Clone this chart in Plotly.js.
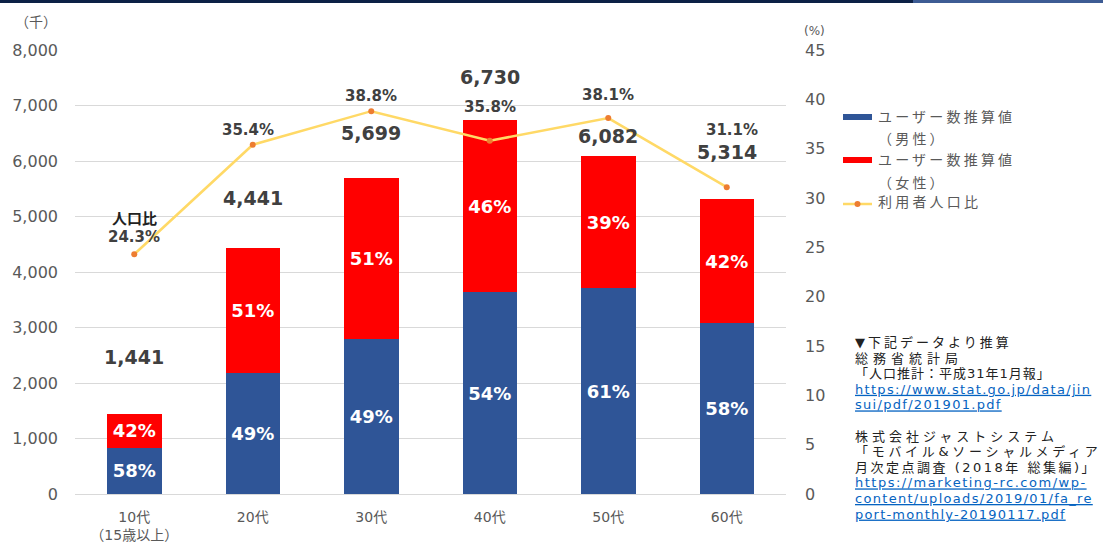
<!DOCTYPE html>
<html>
<head>
<meta charset="utf-8">
<script src="https://cdn.plot.ly/plotly-3.0.1.min.js"></script>
<style>html,body{margin:0;padding:0;background:#fff;}#chart{width:1103px;height:543px;}</style>
</head>
<body>
<div id="chart"></div>
<script>
// ---- data ----
const categories = ["10代<br>（15歳以上）", "20代", "30代", "40代", "50代", "60代"];
const maleUsers = [836, 2176, 2793, 3634, 3710, 3082];
const femaleUsers = [605, 2265, 2906, 3096, 2372, 2232];
const totalUsers = [1441, 4441, 5699, 6730, 6082, 5314];
const malePct = ["58%", "49%", "49%", "54%", "61%", "58%"];
const femalePct = ["42%", "51%", "51%", "46%", "39%", "42%"];
const userRatio = [24.3, 35.4, 38.8, 35.8, 38.1, 31.1];
const ratioLabels = ["24.3%", "35.4%", "38.8%", "35.8%", "38.1%", "31.1%"];
const seriesNames = ["ユーザー数推算値", "ユーザー数推算値", "利用者人口比"];
const seriesSub = ["（男性）", "（女性）", ""];
const sourceLines = [
  "▼下記データより推算",
  "総務省統計局",
  "「人口推計：平成31年1月報」",
  "https://www.stat.go.jp/data/jin",
  "sui/pdf/201901.pdf",
  "",
  "株式会社ジャストシステム",
  "「モバイル&amp;ソーシャルメディア",
  "月次定点調査 (2018年 総集編)」",
  "https://marketing-rc.com/wp-",
  "content/uploads/2019/01/fa_re",
  "port-monthly-20190117.pdf"
];
const sourceIsLink = [false, false, false, true, true, false, false, false, false, true, true, true];

// ---- layout helpers (pixel geometry) ----
const W = 1103, H = 543;
const M = {l: 75, r: 317, t: 50, b: 49};
const plotH = H - M.t - M.b;
const plotW = W - M.l - M.r;
const py = (px) => (H - M.b - px) / plotH;   // pixel y -> paper y
const pxx = (px) => (px - M.l) / plotW;      // pixel x -> paper x

const FONT = '"DejaVu Sans", "Noto Sans CJK JP", sans-serif';
const GRAY = '#595959';
const DARK = '#404040';
const BLUE = '#2F5597', RED = '#FF0000', GOLD = '#FFD966', ORANGE = '#ED7D31';

const totalShift = [57, 50, 45, 43, 20, 47];
const ratioShift = [17, 15, 15, 34, 23, 57];
const ratioXShift = [0, -5, 0, 0, 0, 5];
const sourceSpacing = [3, 5, 1, 1.3, 1.3, 0, 4, 3.7, 2.5, 1.5, 1.3, 1.2];

const traces = [
  {
    type: 'bar', name: seriesNames[0] + seriesSub[0],
    x: categories, y: maleUsers, text: malePct,
    textposition: 'inside', insidetextanchor: 'middle', textangle: 0,
    constraintext: 'none',
    textfont: {family: FONT, size: 18, color: '#ffffff', weight: 'bold'},
    marker: {color: BLUE}
  },
  {
    type: 'bar', name: seriesNames[1] + seriesSub[1],
    x: categories, y: femaleUsers, text: femalePct,
    textposition: 'inside', insidetextanchor: 'middle', textangle: 0,
    constraintext: 'none',
    textfont: {family: FONT, size: 18, color: '#ffffff', weight: 'bold'},
    marker: {color: RED}
  },
  {
    type: 'scatter', mode: 'lines+markers', name: seriesNames[2],
    x: categories, y: userRatio, yaxis: 'y2',
    line: {color: GOLD, width: 2.5},
    marker: {color: ORANGE, size: 6}
  }
];

const annotations = [];
categories.forEach((c, i) => {
  annotations.push({
    x: c, y: totalUsers[i], xref: 'x', yref: 'y',
    text: totalUsers[i].toLocaleString('en-US'),
    showarrow: false, yshift: totalShift[i], xanchor: 'center', yanchor: 'middle',
    font: {family: FONT, size: 19, color: DARK, weight: 'bold'}
  });
  annotations.push({
    x: c, y: userRatio[i], xref: 'x', yref: 'y2',
    text: ratioLabels[i], showarrow: false,
    yshift: ratioShift[i], xshift: ratioXShift[i], xanchor: 'center', yanchor: 'middle',
    font: {family: FONT, size: 15, color: DARK, weight: 'bold'}
  });
});
annotations.push({
  x: categories[0], y: userRatio[0], xref: 'x', yref: 'y2',
  text: '人口比', showarrow: false, yshift: 35, xanchor: 'center', yanchor: 'middle',
  font: {family: FONT, size: 15, color: '#222222', weight: 'bold'}
});
annotations.push({
  x: pxx(36), y: py(22), xref: 'paper', yref: 'paper', text: '（千）',
  xanchor: 'center', yanchor: 'middle',
  showarrow: false, font: {family: FONT, size: 14, color: GRAY}
});
annotations.push({
  x: pxx(814), y: py(31), xref: 'paper', yref: 'paper', text: '(%)',
  xanchor: 'center', yanchor: 'middle',
  showarrow: false, font: {family: FONT, size: 12, color: GRAY}
});

// legend (drawn)
const legendTextY = [117, 160, 202];
const legendSubY = [139, 183];
const spaced = (t, s) => '<span style="letter-spacing:' + s + 'px">' + t + '</span>';
seriesNames.forEach((n, i) => {
  annotations.push({
    x: pxx(876), y: py(legendTextY[i]), xref: 'paper', yref: 'paper',
    xanchor: 'left', yanchor: 'middle', showarrow: false,
    text: spaced(n, 3.2), font: {family: FONT, size: 14, color: GRAY}
  });
  if (seriesSub[i]) {
    annotations.push({
      x: pxx(876), y: py(legendSubY[i]), xref: 'paper', yref: 'paper',
      xanchor: 'left', yanchor: 'middle', showarrow: false,
      text: spaced(seriesSub[i], 3.2), font: {family: FONT, size: 14, color: GRAY}
    });
  }
});

// source notes
const srcText = sourceLines.map((t, i) => {
  if (!t) return ' ';
  if (sourceIsLink[i]) return '<span style="fill:#0563C1;text-decoration:underline;font-size:13px;letter-spacing:' + sourceSpacing[i] + 'px">' + t + '</span>';
  return '<span style="font-size:13px;letter-spacing:' + sourceSpacing[i] + 'px">' + t + '</span>';
}).join('<br>');
annotations.push({
  x: pxx(853), y: py(428.5), xref: 'paper', yref: 'paper',
  xanchor: 'left', yanchor: 'middle', align: 'left', showarrow: false,
  text: srcText, font: {family: FONT, size: 12, color: '#222222'}
});

const layout = {
  width: W, height: H,
  margin: M,
  paper_bgcolor: '#ffffff', plot_bgcolor: '#ffffff',
  font: {family: FONT, color: GRAY},
  barmode: 'stack', bargap: 0.54,
  showlegend: false,
  xaxis: {
    type: 'category', showgrid: false, zeroline: false,
    showline: true, linecolor: '#D9D9D9', linewidth: 1,
    tickfont: {family: FONT, size: 14, color: GRAY},
    ticks: '', ticklabelstandoff: 10, fixedrange: true
  },
  yaxis: {
    range: [0, 8000], dtick: 1000, tickformat: ',',
    showgrid: true, gridcolor: '#D9D9D9', gridwidth: 1,
    zeroline: false, showline: false, ticks: '',
    ticklabelstandoff: 16,
    tickfont: {family: FONT, size: 16, color: GRAY}
  },
  yaxis2: {
    overlaying: 'y', side: 'right', range: [0, 45], dtick: 5,
    showgrid: false, zeroline: false, showline: false, ticks: '',
    ticklabelstandoff: 18,
    tickfont: {family: FONT, size: 16, color: GRAY}
  },
  annotations: annotations,
  shapes: [
    {type: 'rect', xref: 'paper', yref: 'paper', x0: pxx(0), x1: pxx(913), y0: py(3), y1: py(0),
     fillcolor: '#0C2146', line: {width: 0}, layer: 'above'},
    {type: 'rect', xref: 'paper', yref: 'paper', x0: pxx(913), x1: pxx(1103), y0: py(3), y1: py(0),
     fillcolor: '#3D5C94', line: {width: 0}, layer: 'above'},
    // legend keys
    {type: 'rect', xref: 'paper', yref: 'paper', x0: pxx(843), x1: pxx(872), y0: py(120), y1: py(114),
     fillcolor: BLUE, line: {width: 0}},
    {type: 'rect', xref: 'paper', yref: 'paper', x0: pxx(843), x1: pxx(872), y0: py(163), y1: py(157),
     fillcolor: RED, line: {width: 0}},
    {type: 'line', xref: 'paper', yref: 'paper', x0: pxx(843), x1: pxx(872), y0: py(204), y1: py(204),
     line: {color: GOLD, width: 2.5}},
    {type: 'circle', xref: 'paper', yref: 'paper', x0: pxx(854.5), x1: pxx(860.5), y0: py(207), y1: py(201),
     fillcolor: ORANGE, line: {width: 0}}
  ]
};

Plotly.newPlot('chart', traces, layout, {staticPlot: true, displayModeBar: false});
</script>
</body>
</html>
